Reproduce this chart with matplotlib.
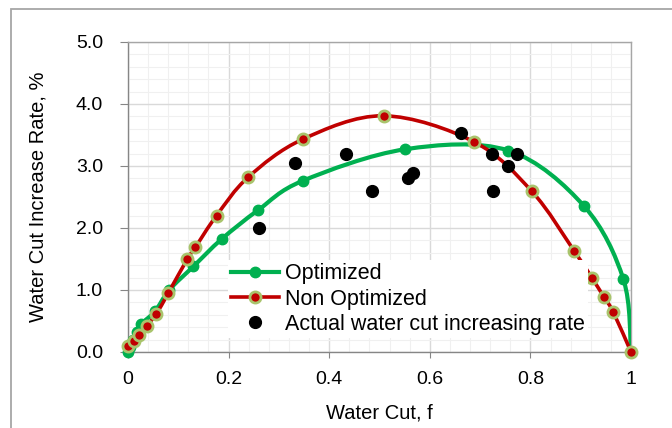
"""Water cut increase rate vs water cut: optimized, non optimized and actual."""

import matplotlib

matplotlib.use("Agg")
import matplotlib.pyplot as plt
import numpy as np
from matplotlib.lines import Line2D
from matplotlib.patches import PathPatch, Rectangle
from matplotlib.path import Path
from matplotlib.ticker import FuncFormatter, MultipleLocator

plt.rcParams["font.family"] = ["Liberation Sans", "DejaVu Sans"]

# Optimized curve (green)
opt_x = [0.0, 0.004, 0.010, 0.018, 0.026, 0.054, 0.082, 0.130, 0.186, 0.259,
         0.347, 0.551, 0.756, 0.907, 0.985, 1.0]
opt_y = [0.0, 0.08, 0.20, 0.33, 0.45, 0.66, 1.00, 1.38, 1.82, 2.29,
         2.76, 3.27, 3.25, 2.35, 1.17, 0.0]

# Non optimized curve (red)
non_x = [0.0, 0.011, 0.022, 0.037, 0.056, 0.080, 0.118, 0.134, 0.176, 0.239,
         0.347, 0.508, 0.688, 0.803, 0.887, 0.922, 0.946, 0.965, 1.0]
non_y = [0.10, 0.17, 0.27, 0.42, 0.61, 0.95, 1.50, 1.69, 2.20, 2.82,
         3.43, 3.81, 3.39, 2.59, 1.63, 1.20, 0.89, 0.64, 0.0]

# Actual water cut increasing rate (black)
act_x = [0.261, 0.333, 0.433, 0.486, 0.557, 0.567, 0.663, 0.723, 0.725, 0.755, 0.774]
act_y = [2.00, 3.05, 3.20, 2.60, 2.80, 2.88, 3.53, 3.20, 2.60, 3.00, 3.20]

GREEN = "#00B050"
RED = "#C00000"
RED_EDGE = "#A9C46C"
GRAY = "#868686"


def _smooth_path(x, y):
    """Excel-style smoothed line: cubic Bezier segments through the points."""
    p = np.column_stack([x, y]).astype(float)
    n = len(p)
    verts = [p[0]]
    codes = [Path.MOVETO]
    for i in range(n - 1):
        prev = p[i - 1] if i > 0 else p[i]
        nxt = p[i + 2] if i + 2 < n else p[i + 1]
        c1 = p[i] + (p[i + 1] - prev) / 6.0
        c2 = p[i + 1] - (nxt - p[i]) / 6.0
        verts += [c1, c2, p[i + 1]]
        codes += [Path.CURVE4] * 3
    return Path(verts, codes)


fig = plt.figure(figsize=(6.72, 4.28), dpi=100)
ax = fig.add_axes([128 / 672, 1 - 352 / 428, 503 / 672, 310 / 428])

# chart outer border
fig.patches.append(Rectangle((11 / 672, -0.1), 1.2, 1.1 - 9 / 428,
                             transform=fig.transFigure, fill=False,
                             edgecolor="#A6A6A6", linewidth=1.3))

ax.add_patch(PathPatch(_smooth_path(opt_x, opt_y), fill=False,
                       edgecolor=GREEN, linewidth=3.0, zorder=3,
                       capstyle="round", joinstyle="round"))
ax.plot(opt_x, opt_y, ls="none", marker="o", ms=7.5, color=GREEN,
        mec=GREEN, zorder=4, clip_on=False)

ax.add_patch(PathPatch(_smooth_path(non_x, non_y), fill=False,
                       edgecolor=RED, linewidth=2.6, zorder=5,
                       capstyle="round", joinstyle="round"))
ax.plot(non_x, non_y, ls="none", marker="o", ms=8, color=RED,
        mec=RED_EDGE, mew=2.0, zorder=6, clip_on=False)

ax.plot(act_x, act_y, ls="none", marker="o", ms=8.5, color="black",
        zorder=7)

ax.set_xlim(0, 1)
ax.set_ylim(0, 5)
ax.xaxis.set_major_locator(MultipleLocator(0.2))
ax.xaxis.set_minor_locator(MultipleLocator(0.04))
ax.yaxis.set_major_locator(MultipleLocator(1.0))
ax.yaxis.set_minor_locator(MultipleLocator(0.2))
ax.xaxis.set_major_formatter(FuncFormatter(lambda v, _: f"{v:g}"))
ax.yaxis.set_major_formatter(FuncFormatter(lambda v, _: f"{v:.1f}"))

ax.grid(which="major", color="#D9D9D9", linewidth=1.0, zorder=0)
ax.grid(which="minor", color="#F0F0F0", linewidth=0.8, zorder=0)
ax.set_axisbelow(True)

for side in ("top", "right"):
    ax.spines[side].set_color("#A6A6A6")
for side in ("left", "bottom"):
    ax.spines[side].set_color(GRAY)
for s in ax.spines.values():
    s.set_linewidth(1.0)

ax.tick_params(axis="y", which="major", direction="out", length=6,
               color=GRAY, labelsize=14, pad=12)
ax.tick_params(axis="x", which="major", direction="out", length=4.5,
               color=GRAY, labelsize=14, pad=9)
ax.tick_params(which="minor", length=0)

ax.set_xlabel("Water Cut, f", fontsize=14.5, va="center")
ax.set_ylabel("Water Cut Increase Rate, %", fontsize=14.5, va="center")
ax.xaxis.set_label_coords(0.5, -(413 - 352) / 310)
ax.yaxis.set_label_coords((38 - 128) / 503, 0.5)

handles = [
    Line2D([], [], color=GREEN, lw=3.0, marker="o", ms=7.5, mec=GREEN),
    Line2D([], [], color=RED, lw=2.6, marker="o", ms=8, mec=RED_EDGE, mew=2.0),
    Line2D([], [], ls="none", color="black", marker="o", ms=8.5),
]
labels = ["Optimized", "Non Optimized", "Actual water cut increasing rate"]
leg = ax.legend(handles, labels, loc="upper left",
                bbox_to_anchor=((228 - 128) / 503, (352 - 260) / 310),
                fontsize=15.5, frameon=True, facecolor="white", edgecolor="none",
                framealpha=1.0, fancybox=False, handlelength=2.2,
                handletextpad=0.3, labelspacing=0.2, borderpad=0.15,
                borderaxespad=0.0)
leg.set_zorder(10)

fig.savefig("out.png", dpi=100)
